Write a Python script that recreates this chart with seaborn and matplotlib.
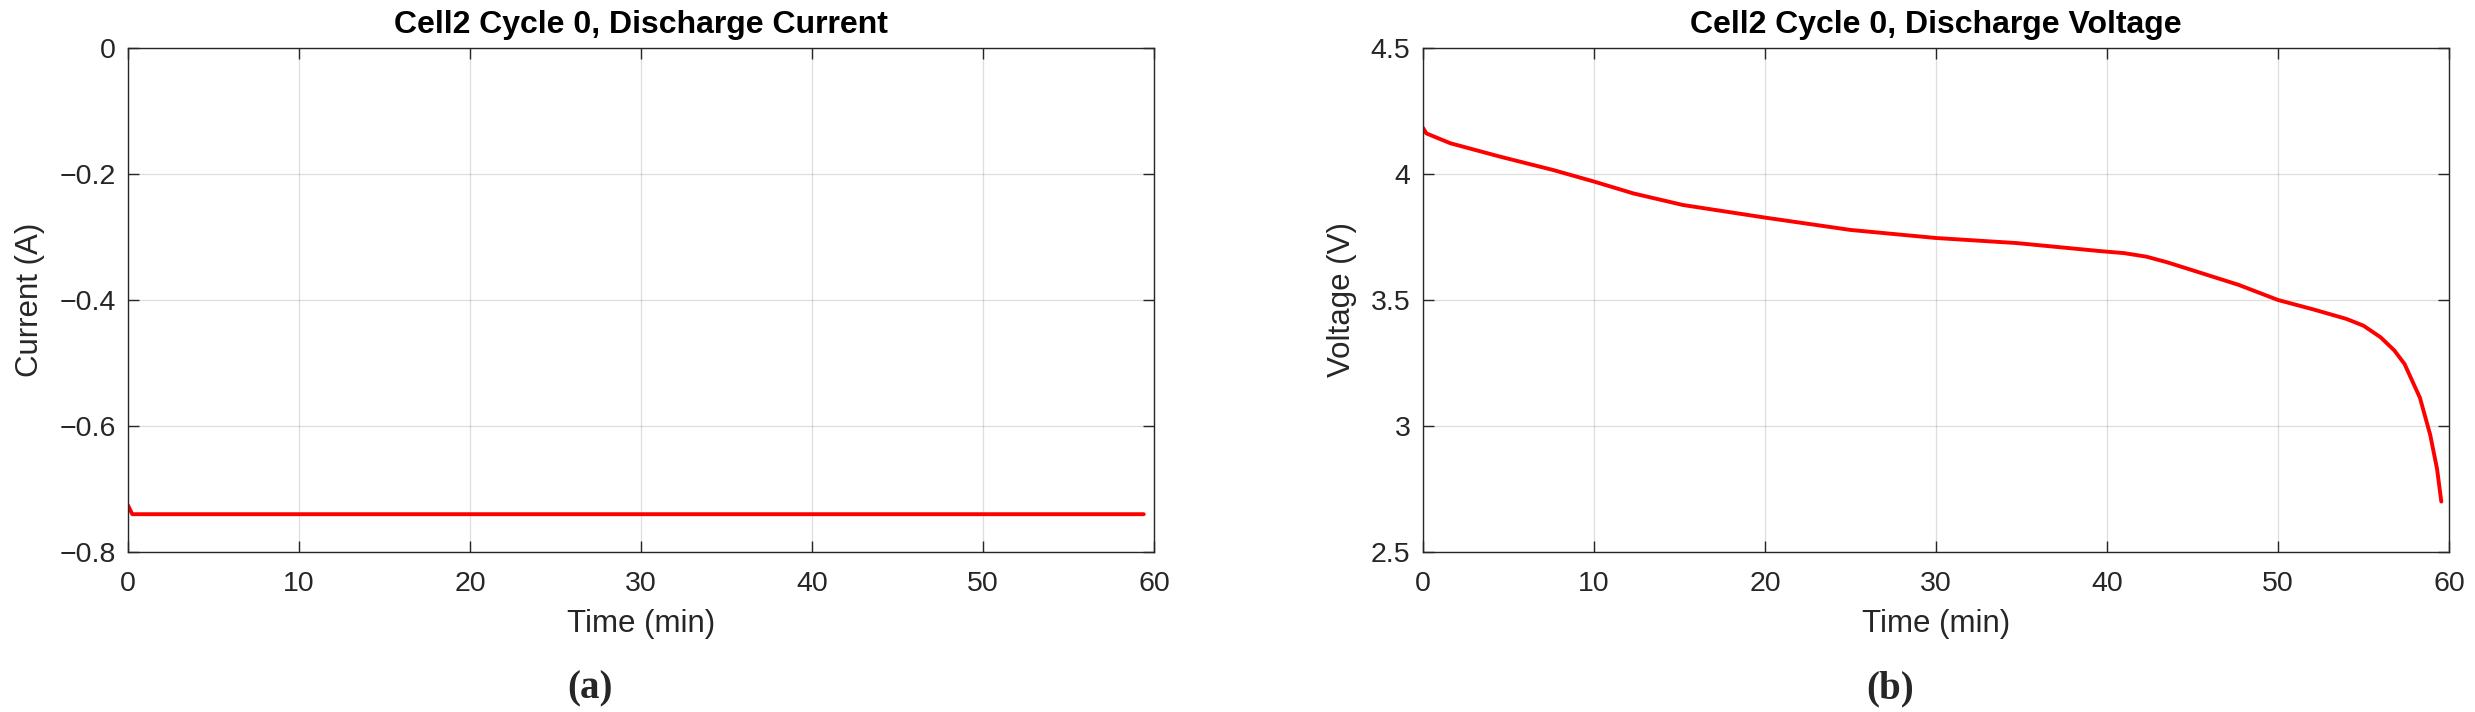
import numpy as np
import pandas as pd
import matplotlib
matplotlib.use("Agg")
import matplotlib.pyplot as plt
import matplotlib.ticker as mtick
import seaborn as sns

# discharge current, cell 2, cycle 0
current_time = [0.0, 0.25, 10.0, 20.0, 30.0, 40.0, 50.0, 59.4]
current_amp = [-0.726, -0.740, -0.740, -0.740, -0.740, -0.740, -0.740, -0.740]

# discharge voltage, cell 2, cycle 0
voltage_time = [0.0, 0.2, 1.6, 4.5, 7.6, 10.0, 12.3, 15.2, 20.0, 25.0, 30.0,
                34.7, 39.6, 41.0, 42.3, 43.5, 45.0, 47.7, 50.0, 52.1, 54.0,
                55.0, 56.0, 56.8, 57.4, 58.3, 58.9, 59.3, 59.55]
voltage_v = [4.183, 4.161, 4.122, 4.069, 4.016, 3.970, 3.923, 3.877, 3.827,
             3.778, 3.746, 3.726, 3.694, 3.686, 3.672, 3.650, 3.618, 3.560,
             3.500, 3.462, 3.425, 3.398, 3.352, 3.300, 3.246, 3.112, 2.965,
             2.830, 2.700]

time_ticks = [0, 10, 20, 30, 40, 50, 60]
current_ticks = [-0.8, -0.6, -0.4, -0.2, 0]
voltage_ticks = [2.5, 3, 3.5, 4, 4.5]

sns.set_style("ticks")
plt.rcParams['font.family'] = ['Liberation Sans', 'DejaVu Sans']

AX_COLOR = '#262626'


def fmt(v, pos):
    return f'{v:g}'.replace('-', '\u2212')


def style_axes(ax, title, ylabel, yticks, ylim):
    ax.set_xlim(0, 60)
    ax.set_ylim(*ylim)
    ax.set_xticks(time_ticks)
    ax.set_yticks(yticks)
    ax.yaxis.set_major_formatter(mtick.FuncFormatter(fmt))
    ax.xaxis.set_major_formatter(mtick.FuncFormatter(fmt))
    ax.grid(True, color=AX_COLOR, alpha=0.15, linewidth=0.9)
    ax.set_axisbelow(True)
    for s in ax.spines.values():
        s.set_visible(True)
        s.set_color(AX_COLOR)
        s.set_linewidth(1.0)
    ax.tick_params(axis='both', direction='in', top=True, right=True,
                   length=8, width=1.0, color=AX_COLOR, labelcolor=AX_COLOR,
                   labelsize=20.5)
    ax.tick_params(axis='x', pad=14)
    ax.tick_params(axis='y', pad=9)
    ax.set_title(title, fontsize=23, fontweight='bold', color='black', pad=11)
    ax.set_xlabel('Time (min)', fontsize=22.5, color=AX_COLOR, labelpad=8)
    ax.set_ylabel(ylabel, fontsize=22.5, color=AX_COLOR, labelpad=10)


fig = plt.figure(figsize=(24.75, 7.12), dpi=100)
ax1 = fig.add_axes([0.05172, 0.22472, 0.41455, 0.70787])
ax2 = fig.add_axes([0.57495, 0.22472, 0.41455, 0.70787])

cur_df = pd.DataFrame({'t': current_time, 'i': current_amp})
volt_df = pd.DataFrame({'t': voltage_time, 'v': voltage_v})

sns.lineplot(data=cur_df, x='t', y='i', ax=ax1, color='#ff0000', linewidth=2.8)
sns.lineplot(data=volt_df, x='t', y='v', ax=ax2, color='#ff0000', linewidth=2.8)

style_axes(ax1, 'Cell2 Cycle 0, Discharge Current', 'Current (A)',
           current_ticks, (-0.8, 0))
style_axes(ax2, 'Cell2 Cycle 0, Discharge Voltage', 'Voltage (V)',
           voltage_ticks, (2.5, 4.5))

fig.text(0.2384, 0.019, '(a)', fontsize=28, fontweight='bold',
         family=['Liberation Serif', 'DejaVu Serif'], ha='center', va='baseline')
fig.text(0.7636, 0.019, '(b)', fontsize=28, fontweight='bold',
         family=['Liberation Serif', 'DejaVu Serif'], ha='center', va='baseline')

fig.savefig('out.png', dpi=100)
